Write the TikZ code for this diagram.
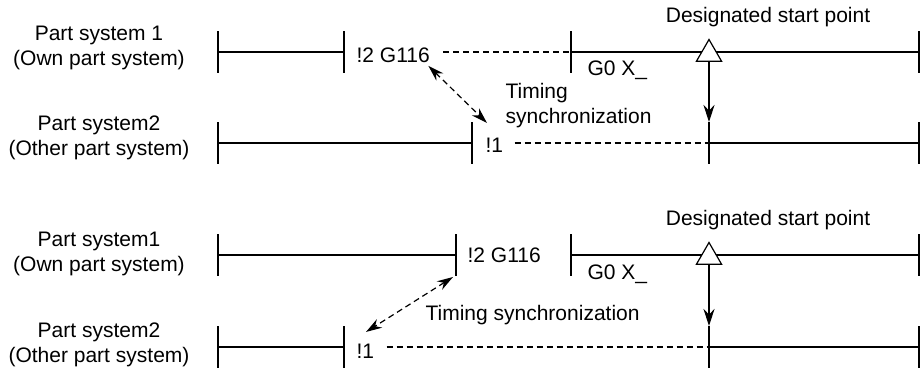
\documentclass[tikz,border=0pt]{standalone}
\usepackage{fontspec}
\setmainfont{Liberation Sans}
\usepackage{tikz}
\usetikzlibrary{arrows.meta,shapes.geometric,positioning,calc}
\tikzstyle{arrow} = [line width=1.2pt,-{Stealth[length=17pt,width=11pt]}]

\begin{document}
\begin{tikzpicture}[x=1pt,y=-1pt,
    line width=1.2pt,
    txt/.style={font=\fontsize{21}{25}\selectfont, inner sep=0pt},
    sysname/.style={txt, align=center},
    code/.style={txt, anchor=base west},
    wait/.style={dash pattern=on 6pt off 4pt},
    sync/.style={dash pattern=on 6pt off 4pt,
                 {Stealth[length=16pt,width=10pt]}-{Stealth[length=16pt,width=10pt]}},
    startmark/.style={draw, fill=white, regular polygon, regular polygon sides=3,
                      minimum size=29pt, inner sep=0pt}
]
\useasboundingbox (0,0) rectangle (922,372);

% upper chart
\coordinate (a1) at (218,52);
\coordinate (a2) at (344,52);
\coordinate (a3) at (571,52);
\coordinate (a4) at (919,52);
\coordinate (b1) at (218,143);
\coordinate (b2) at (472,143);
\coordinate (b3) at (709,143);
\coordinate (b4) at (919,143);

\node[sysname] (lblA) at (99,48) {Part system 1\\(Own part system)};
\node[sysname] (lblB) at (99,138) {Part system2\\(Other part system)};
\node[code] (g116A) at (356,62) {!2 G116};
\node[code] (g0A) at (587,75) {G0 X\_};
\node[code] (oneB) at (485,152) {!1};
\node[txt, anchor=base] (dspA) at (768,22) {Designated start point};
\node[txt, anchor=base west, align=left] (syncA) at (505,123) {Timing\\synchronization};

\foreach \p in {a1,a2,a3,a4,b1,b2,b3,b4}
  \draw ($(\p)+(0,-21)$) -- ($(\p)+(0,21)$);
\draw (a1) -- (a2);
\draw (a3) -- (a4);
\draw (b1) -- (b2);
\draw (b3) -- (b4);
\draw[wait] ($(g116A.east |- a3)+(13,0)$) -- (a3);
\draw[wait] ($(oneB.east |- b3)+(11,0)$) -- (b3);
\node[startmark] (tA) at (709,54) {};
\draw[arrow] (tA.south) -- ($(b3)+(0,-21)$);
\draw[sync] ($(g116A.south east)+(-2,3)$) -- ($(b2)+(15,-20)$);

% lower chart
\coordinate (c1) at (218,255);
\coordinate (c2) at (456,255);
\coordinate (c3) at (571,255);
\coordinate (c4) at (919,255);
\coordinate (d1) at (218,347);
\coordinate (d2) at (344,347);
\coordinate (d3) at (709,347);
\coordinate (d4) at (919,347);

\node[sysname] (lblC) at (99,254) {Part system1\\(Own part system)};
\node[sysname] (lblD) at (99,345) {Part system2\\(Other part system)};
\node[code] (g116C) at (467,262) {!2 G116};
\node[code] (g0C) at (587,279) {G0 X\_};
\node[code] (oneD) at (356,358) {!1};
\node[txt, anchor=base] (dspC) at (768,225) {Designated start point};
\node[code] (syncC) at (425,320) {Timing synchronization};

\foreach \p in {c1,c2,c3,c4,d1,d2,d3,d4}
  \draw ($(\p)+(0,-21)$) -- ($(\p)+(0,21)$);
\draw (c1) -- (c2);
\draw (c3) -- (c4);
\draw (d1) -- (d2);
\draw (d3) -- (d4);
\draw[wait] ($(oneD.east |- d3)+(12,0)$) -- (d3);
\node[startmark] (tC) at (709,257) {};
\draw[arrow] (tC.south) -- ($(d3)+(0,-21)$);
\draw[sync] ($(c2)+(-3,22)$) -- ($(oneD.north west)+(10,-11)$);
\end{tikzpicture}
\end{document}
